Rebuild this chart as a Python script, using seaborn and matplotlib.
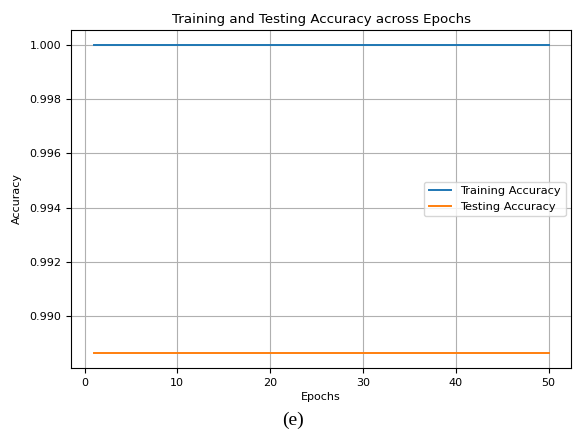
import numpy as np
import pandas as pd
import matplotlib
matplotlib.use("Agg")
import matplotlib.pyplot as plt
import seaborn as sns

epochs = list(range(1, 51))
train_acc = [1.0] * 50
test_acc = [0.98863] * 50

df = pd.DataFrame({
    "Epochs": epochs * 2,
    "Accuracy": train_acc + test_acc,
    "Series": ["Training Accuracy"] * 50 + ["Testing Accuracy"] * 50,
})

plt.rcParams["font.family"] = ["DejaVu Sans"]
fig = plt.figure(figsize=(5.73, 4.34), dpi=100)
ax = fig.add_axes([0.124, 0.152, 0.873, 0.779])

sns.lineplot(data=df, x="Epochs", y="Accuracy", hue="Series",
             palette=["#1f77b4", "#ff7f0e"], ax=ax, linewidth=1.4)

ax.set_title("Training and Testing Accuracy across Epochs", fontsize=9.6, pad=5)
ax.set_xlabel("Epochs", fontsize=8, labelpad=3)
ax.set_ylabel("Accuracy", fontsize=8, labelpad=5)
ax.tick_params(labelsize=8)
ax.set_xticks([0, 10, 20, 30, 40, 50])
ax.set_yticks([0.990, 0.992, 0.994, 0.996, 0.998, 1.000])
ax.yaxis.set_major_formatter(matplotlib.ticker.FormatStrFormatter("%.3f"))
ax.grid(True, color="#b0b0b0", linewidth=0.8)
ax.legend(loc="center right", fontsize=8.2, title=None)

fig.text(0.512, 0.022, "(e)", fontsize=14, family="Liberation Serif", ha="center")
fig.savefig("out.png", dpi=100)
